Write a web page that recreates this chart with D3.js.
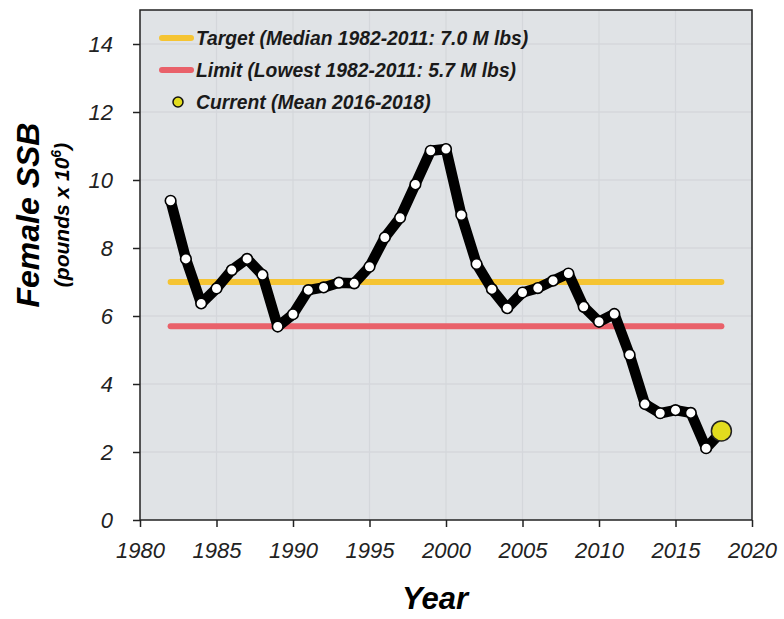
<!DOCTYPE html>
<html>
<head>
<meta charset="utf-8">
<script src="https://cdn.jsdelivr.net/npm/d3@7"></script>
<style>
  body { margin: 0; background: #fff; }
  svg { display: block; font-family: "Liberation Sans", Arial, sans-serif; }
  .axis text { font-style: italic; font-size: 22px; fill: #222; }
  .axis path, .axis line { stroke: #222; stroke-width: 1.5; }
  .legend text { font-style: italic; font-weight: bold; font-size: 19.3px; fill: #1a1a1a; }
</style>
</head>
<body>
<svg id="chart" width="784" height="619"></svg>
<script>
// Female spawning stock biomass, pounds x 10^6
const years = d3.range(1982, 2019);
const ssb = [
  9.39, 7.68, 6.37, 6.81, 7.35, 7.68, 7.21, 5.69, 6.05, 6.76,
  6.84, 6.98, 6.96, 7.45, 8.31, 8.89, 9.87, 10.86, 10.91, 8.97,
  7.53, 6.79, 6.23, 6.69, 6.82, 7.04, 7.25, 6.27, 5.83, 6.06,
  4.86, 3.41, 3.14, 3.23, 3.15, 2.11, 2.60
];
const refLines = [
  { label: "Target (Median 1982-2011: 7.0 M lbs)", value: 7.0, color: "#f5c433" },
  { label: "Limit (Lowest 1982-2011: 5.7 M lbs)", value: 5.7, color: "#e9616a" }
];
const refSpan = [1982, 2018];
const current = { label: "Current (Mean 2016-2018)", year: 2018, value: 2.62 };
const yTicks = [0, 2, 4, 6, 8, 10, 12, 14];
const xTicks = [1980, 1985, 1990, 1995, 2000, 2005, 2010, 2015, 2020];

const margin = { top: 10, left: 140, right: 32, bottom: 99 };
const W = 784, H = 619;
const width = W - margin.left - margin.right;
const height = H - margin.top - margin.bottom;

const svg = d3.select("#chart");
const g = svg.append("g").attr("transform", `translate(${margin.left},${margin.top})`);

const x = d3.scaleLinear().domain([1980, 2020]).range([0, width]);
const y = d3.scaleLinear().domain([0, 15]).range([height, 0]);

// plot background
g.append("rect").attr("width", width).attr("height", height).attr("fill", "#e0e3e6");

// faint grid
g.append("g").selectAll("line").data(yTicks.slice(1)).join("line")
  .attr("x1", 0).attr("x2", width)
  .attr("y1", d => y(d)).attr("y2", d => y(d))
  .attr("stroke", "#cfd2d6").attr("stroke-width", 1.2);
g.append("g").selectAll("line").data(xTicks.slice(1, -1)).join("line")
  .attr("x1", d => x(d)).attr("x2", d => x(d))
  .attr("y1", 0).attr("y2", height)
  .attr("stroke", "#d4d7db").attr("stroke-width", 1.2);

// reference lines
g.append("g").selectAll("line").data(refLines).join("line")
  .attr("x1", x(refSpan[0])).attr("x2", x(refSpan[1]))
  .attr("y1", d => y(d.value)).attr("y2", d => y(d.value))
  .attr("stroke", d => d.color).attr("stroke-width", 6)
  .attr("stroke-linecap", "round");

// series
const pts = years.map((yr, i) => ({ year: yr, value: ssb[i] }));
g.append("path").datum(pts)
  .attr("fill", "none").attr("stroke", "#000").attr("stroke-width", 10.5)
  .attr("stroke-linejoin", "round").attr("stroke-linecap", "round")
  .attr("d", d3.line().x(d => x(d.year)).y(d => y(d.value)));

g.append("g").selectAll("circle").data(pts).join("circle")
  .attr("cx", d => x(d.year)).attr("cy", d => y(d.value)).attr("r", 5.3)
  .attr("fill", "#fff").attr("stroke", "#000").attr("stroke-width", 1.6);

g.append("circle")
  .attr("cx", x(current.year)).attr("cy", y(current.value)).attr("r", 10)
  .attr("fill", "#e2dc1e").attr("stroke", "#222").attr("stroke-width", 1.5);

// frame
g.append("rect").attr("width", width).attr("height", height)
  .attr("fill", "none").attr("stroke", "#222").attr("stroke-width", 1.5);

// axes
g.append("g").attr("class", "axis")
  .call(d3.axisLeft(y).tickValues(yTicks).tickSize(7).tickPadding(20))
  .call(a => a.select(".domain").remove());
g.append("g").attr("class", "axis").attr("transform", `translate(0,${height})`)
  .call(d3.axisBottom(x).tickValues(xTicks).tickFormat(d3.format("d")).tickSize(7).tickPadding(15))
  .call(a => a.select(".domain").remove());

// axis titles
svg.append("text")
  .attr("transform", `translate(39,215) rotate(-90)`)
  .attr("text-anchor", "middle")
  .style("font-size", "32px").style("font-weight", "bold").style("font-style", "italic")
  .text("Female SSB");
const sub = svg.append("text")
  .attr("transform", `translate(69,215) rotate(-90)`)
  .attr("text-anchor", "middle")
  .style("font-size", "21px").style("font-weight", "bold").style("font-style", "italic");
sub.append("tspan").text("(pounds x 10");
sub.append("tspan").attr("dy", -8).style("font-size", "14px").text("6");
sub.append("tspan").attr("dy", 8).text(")");

svg.append("text")
  .attr("x", 435).attr("y", 609)
  .attr("text-anchor", "middle")
  .style("font-size", "31px").style("font-weight", "bold").style("font-style", "italic")
  .text("Year");

// legend
const leg = svg.append("g").attr("class", "legend");
const rows = [38, 70, 102];
refLines.forEach((d, i) => {
  leg.append("line")
    .attr("x1", 162).attr("x2", 191).attr("y1", rows[i]).attr("y2", rows[i])
    .attr("stroke", d.color).attr("stroke-width", 6).attr("stroke-linecap", "round");
  leg.append("text").attr("x", 196).attr("y", rows[i]).attr("dy", "0.35em").text(d.label);
});
leg.append("circle").attr("cx", 178).attr("cy", rows[2]).attr("r", 5)
  .attr("fill", "#e2dc1e").attr("stroke", "#111").attr("stroke-width", 1.5);
leg.append("text").attr("x", 196).attr("y", rows[2]).attr("dy", "0.35em").text(current.label);
</script>
</body>
</html>
